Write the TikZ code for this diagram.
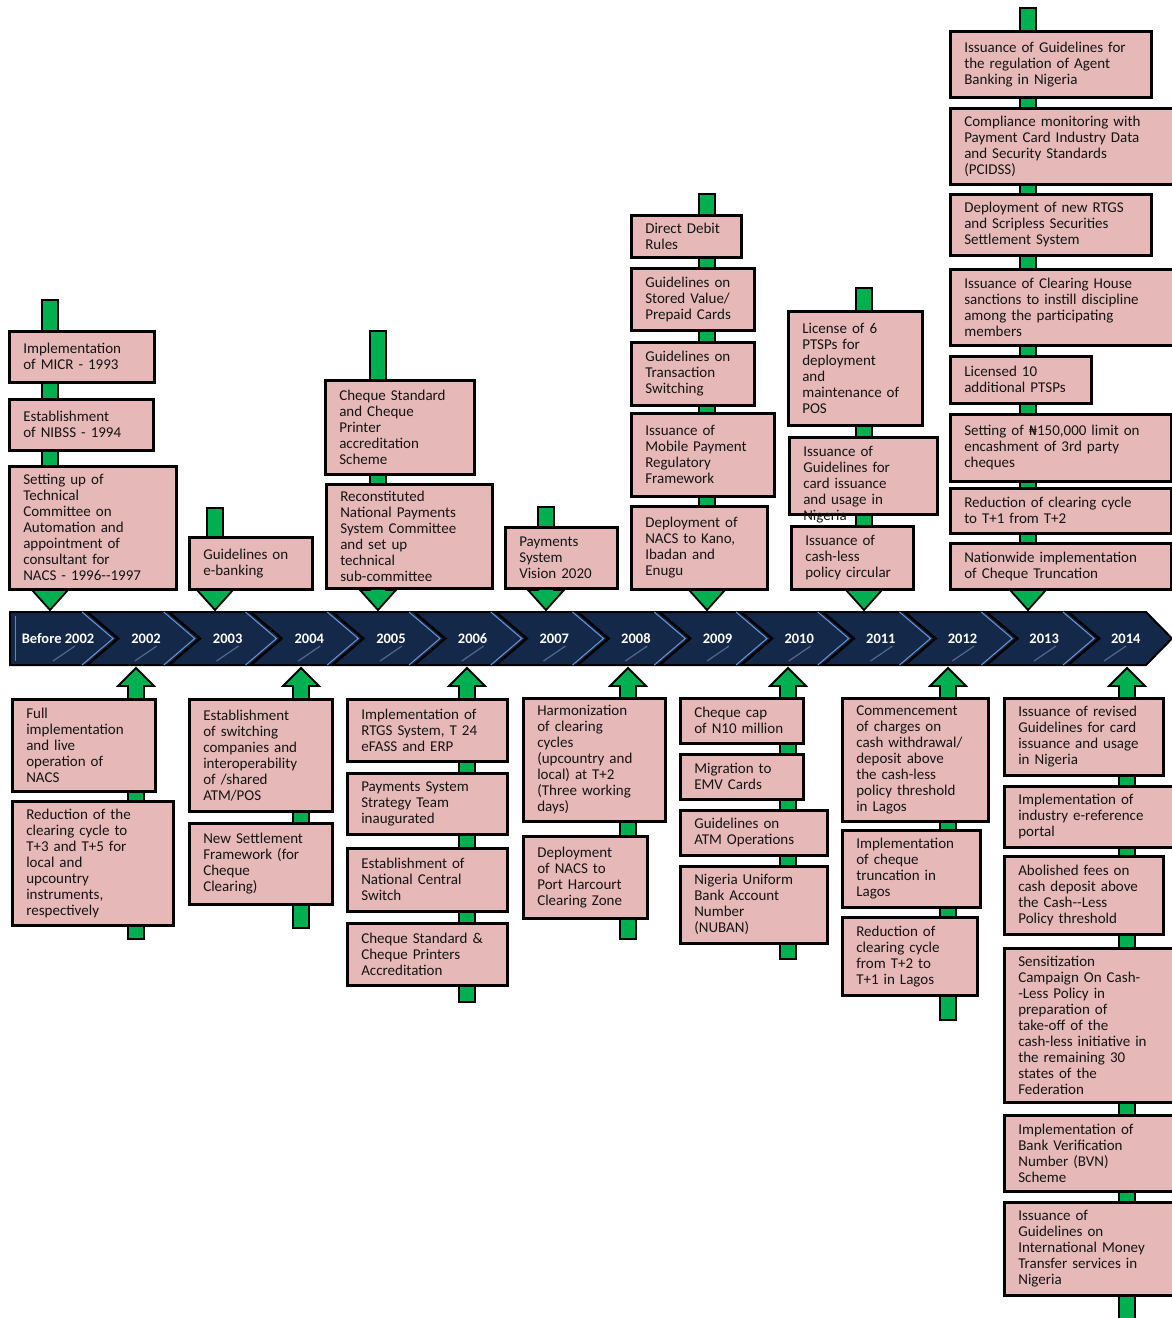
\documentclass[tikz,border=0pt]{standalone}
\usepackage{fontspec}
\setmainfont{Carlito}
\newfontfamily\djv{DejaVu Sans}
\usetikzlibrary{shadows}
\definecolor{boxpink}{HTML}{E6B9B8}
\definecolor{grn}{HTML}{00B050}
\definecolor{navy}{HTML}{14284A}
\definecolor{chevblue}{HTML}{6A96D4}
\definecolor{txt}{HTML}{141414}
\tikzset{
 evbox/.style={draw=black, line width=2.6pt, fill=boxpink, rectangle, inner xsep=14pt, inner ysep=1pt, align=left, text=txt, font=\fontsize{15}{16}\selectfont, drop shadow={shadow xshift=1.5pt, shadow yshift=-1.5pt, opacity=0.35}},
 arr/.style={fill=grn, draw=black, line width=1.8pt, line join=miter},
 yr/.style={text=white, font=\bfseries\fontsize{14.5}{16}\selectfont, inner sep=0pt},
}
\newcommand\ev[6]{%
 \pgfmathsetmacro\evw{#4-#2}%
 \pgfmathsetmacro\evh{#5-#3}%
 \pgfmathsetmacro\evtw{#4-#2-28}%
 \node[evbox, anchor=north west, minimum width=\evw pt, minimum height=\evh pt, text width=\evtw pt] (#1) at (#2,#3) {#6};}
\newcommand\downarr[4]{%
 \coordinate (#1top) at (#2,#3);
 \coordinate (#1tip) at (#2,#4);
 \filldraw[arr] (#2-8,#3) -- (#2+8,#3) -- (#2+8,#4-20) -- (#2+18,#4-20) -- (#1tip) -- (#2-18,#4-20) -- (#2-8,#4-20) -- cycle;}
\newcommand\uparr[4]{%
 \coordinate (#1tip) at (#2,#3);
 \coordinate (#1bot) at (#2,#4);
 \filldraw[arr] (#2-8,#4) -- (#2+8,#4) -- (#2+8,#3+18) -- (#2+18,#3+18) -- (#1tip) -- (#2-18,#3+18) -- (#2-8,#3+18) -- cycle;}
\begin{document}
\begin{tikzpicture}[x=1pt,y=-1pt]
\clip (0,0) rectangle (1172,1318);
\fill[white] (0,0) rectangle (1172,1318);
% timeline bar
\filldraw[fill=navy, draw=black, line width=2pt, line join=miter] (10,612) -- (1146,612) -- (1172,638.5) -- (1146,665) -- (10,665) -- cycle;
\draw[chevblue!60, line width=1pt, opacity=0.6] (15,616) -- (15,661);
\foreach \k in {0,...,12}{
  \pgfmathsetmacro\bx{87+81.75*\k}
  \draw[chevblue, line width=1pt] (\bx-5,612) -- (\bx+26,638.5) -- (\bx-5,665);
  \draw[black, line width=2.5pt] (\bx,612) -- (\bx+31,638.5) -- (\bx,665);
  \draw[chevblue!70, line width=1.2pt, opacity=0.45] (\bx-34,661) -- (\bx-12,646);
}
\draw[chevblue!70, line width=1.2pt, opacity=0.45] (1104,661) -- (1126,646);
% year labels
\node[yr] (yb) at (58,638.5) {Before 2002};
\foreach \y [count=\i from 0] in {2002,2003,2004,2005,2006,2007,2008,2009,2010,2011,2012,2013,2014}{
  \node[yr] (y\y) at (146+81.65*\i,638.5) {\y};
}
% arrows / stems
\downarr{sa}{50}{300}{610}
\downarr{sb}{215}{508}{610}
\downarr{sc}{378}{331}{610}
\downarr{sd}{546}{507}{610}
\downarr{se}{707}{194}{610}
\downarr{sf}{864}{288}{610}
\downarr{sg}{1028}{8}{610}
\uparr{sh}{136}{668}{939}
\uparr{si}{301}{668}{928}
\uparr{sj}{467}{668}{1002}
\uparr{sk}{628}{668}{939}
\uparr{sl}{788}{668}{959}
\uparr{sm}{948}{668}{1020}
\uparr{sn}{1127}{668}{1330}
% Before 2002
\ev{a1}{8}{330}{153}{381}{Implementation\\of MICR - 1993}
\ev{a2}{8}{398}{152}{449}{Establishment\\of NIBSS - 1994}
\ev{a3}{8}{465}{175}{588}{Setting up of\\Technical\\Committee on\\Automation and\\appointment of\\consultant for\\NACS - 1996-{}-1997}
% 2003
\ev{b1}{188}{536}{311}{588}{Guidelines on\\e-banking}
% 2005
\ev{c1}{324}{379}{473}{473}{Cheque Standard\\and Cheque\\Printer\\accreditation\\Scheme}
\ev{c2}{325}{483}{491}{587}{Reconstituted\\National Payments\\System Committee\\and set up\\technical\\sub-committee}
% 2007
\ev{d1}{504}{526}{616}{587}{Payments\\System\\Vision 2020}
% 2009
\ev{e1}{630}{214}{740}{256}{Direct Debit\\Rules}
\ev{e2}{630}{267}{753}{329}{Guidelines on\\Stored Value/\\Prepaid Cards}
\ev{e3}{630}{341}{753}{404}{Guidelines on\\Transaction\\Switching}
\ev{e4}{630}{412}{773}{495}{Issuance of\\Mobile Payment\\Regulatory\\Framework}
\ev{e5}{630}{505}{766}{588}{Deployment of\\NACS to Kano,\\Ibadan and\\Enugu}
% 2011
\ev{f1}{787}{310}{921}{424}{License of 6\\PTSPs for\\deployment\\and\\maintenance of\\POS}
\ev{f2}{788}{436}{936}{513}{Issuance of\\Guidelines for\\card issuance\\and usage in\\Nigeria\vspace*{-18pt}}
\ev{f3}{790}{525}{912}{588}{Issuance of\\cash-less\\policy circular}
% 2013
\ev{g1}{949}{30}{1150}{96}{Issuance of Guidelines for\\the regulation of Agent\\Banking in Nigeria}
\ev{g2}{949}{107}{1176}{183}{Compliance monitoring with\\Payment Card Industry Data\\and Security Standards\\(PCIDSS)}
\ev{g3}{949}{193}{1150}{254}{Deployment of new RTGS\\and Scripless Securities\\Settlement System}
\ev{g4}{949}{268}{1176}{344}{Issuance of Clearing House\\sanctions to instill discipline\\among the participating\\members}
\ev{g5}{949}{355}{1090}{402}{Licensed 10\\additional PTSPs}
\ev{g6}{949}{413}{1170}{480}{Setting of {\djv\fontsize{13}{16}\selectfont ₦}150,000 limit on\\encashment of 3rd party\\cheques}
\ev{g7}{949}{487}{1170}{532}{Reduction of clearing cycle\\to T+1 from T+2}
\ev{g8}{949}{542}{1170}{588}{Nationwide implementation\\of Cheque Truncation}
% 2002
\ev{h1}{11}{698}{154}{790}{Full\\implementation\\and live\\operation of\\NACS}
\ev{h2}{11}{800}{172}{924}{Reduction of the\\clearing cycle to\\T+3 and T+5 for\\local and\\upcountry\\instruments,\\respectively}
% 2004
\ev{i1}{188}{698}{331}{810}{Establishment\\of switching\\companies and\\interoperability\\of /shared\\ATM/POS}
\ev{i2}{188}{822}{331}{903}{New Settlement\\Framework (for\\Cheque\\Clearing)}
% 2006
\ev{j1}{346}{698}{506}{760}{Implementation of\\RTGS System, T 24\\eFASS and ERP}
\ev{j2}{346}{772}{506}{833}{Payments System\\Strategy Team\\inaugurated}
\ev{j3}{346}{847}{506}{910}{Establishment of\\National Central\\Switch}
\ev{j4}{346}{922}{506}{984}{Cheque Standard \&\\Cheque Printers\\Accreditation}
% 2008
\ev{k1}{522}{697}{664}{820}{Harmonization\\of clearing\\cycles\\(upcountry and\\local) at T+2\\(Three working\\days)}
\ev{k2}{522}{835}{646}{917}{Deployment\\of NACS to\\Port Harcourt\\Clearing Zone}
% 2010
\ev{l1}{679}{697}{802}{742}{Cheque cap\\of N10 million}
\ev{l2}{679}{753}{802}{798}{Migration to\\EMV Cards}
\ev{l3}{679}{809}{826}{854}{Guidelines on\\ATM Operations}
\ev{l4}{679}{865}{826}{942}{Nigeria Uniform\\Bank Account\\Number\\(NUBAN)}
% 2012
\ev{m1}{841}{697}{987}{820}{Commencement\\of charges on\\cash withdrawal/\\deposit above\\the cash-less\\policy threshold\\in Lagos}
\ev{m2}{841}{829}{979}{906}{Implementation\\of cheque\\truncation in\\Lagos}
\ev{m3}{841}{916}{976}{994}{Reduction of\\clearing cycle\\from T+2 to\\T+1 in Lagos}
% 2014
\ev{n1}{1003}{697}{1162}{774}{Issuance of revised\\Guidelines for card\\issuance and usage\\in Nigeria}
\ev{n2}{1003}{785}{1176}{846}{Implementation of\\industry e-reference\\portal}
\ev{n3}{1003}{855}{1162}{933}{Abolished fees on\\cash deposit above\\the Cash-{}-Less\\Policy threshold}
\ev{n4}{1003}{947}{1176}{1101}{Sensitization\\Campaign On Cash-\\-Less Policy in\\preparation of\\take-off of the\\cash-less initiative in\\the remaining 30\\states of the\\Federation}
\ev{n5}{1003}{1114}{1176}{1190}{Implementation of\\Bank Verification\\Number (BVN)\\Scheme}
\ev{n6}{1003}{1201}{1176}{1294}{Issuance of\\Guidelines on\\International Money\\Transfer services in\\Nigeria}
\end{tikzpicture}
\end{document}
